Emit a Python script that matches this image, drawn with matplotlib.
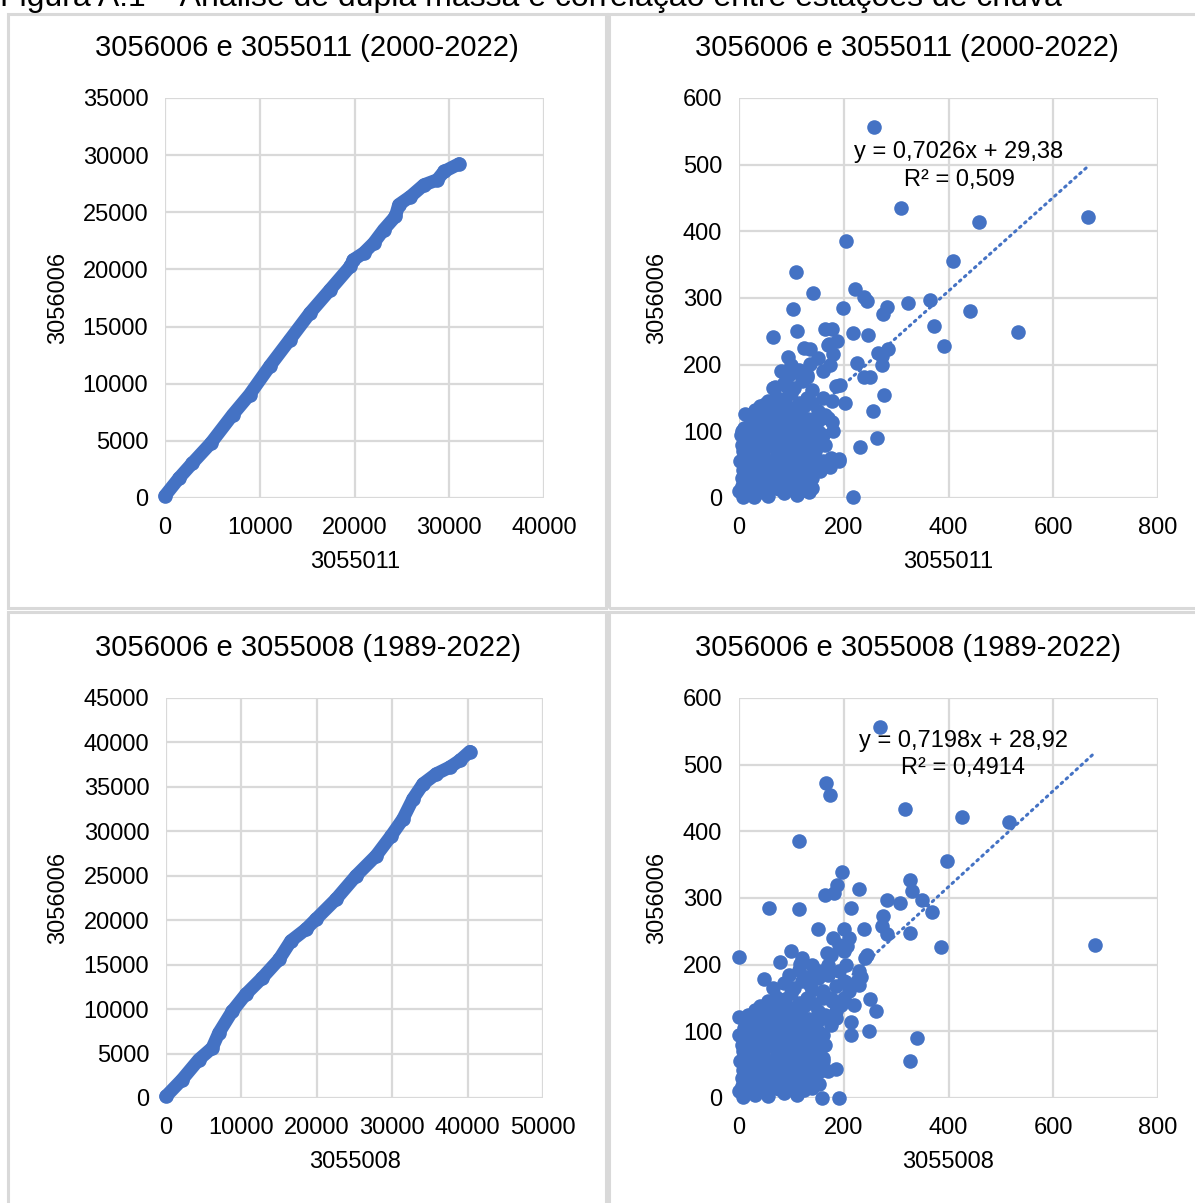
import matplotlib.pyplot as plt
import matplotlib.patches as patches
import numpy as np

plt.rcParams['font.family'] = ['Liberation Sans', 'DejaVu Sans']

# ---------------- dados: curvas de dupla massa (acumulados) ----------------
dm1_x = [0, 1490, 2900, 4850, 7150, 8920, 11040, 13170, 15290, 17420, 19540, 19890,
         20960, 22020, 23080, 24320, 24670, 25910, 27330, 28740, 29450, 31040]
dm1_y = [200, 1750, 3060, 4810, 7290, 9040, 11520, 13850, 16180, 18220, 20260, 20850,
         21430, 22300, 23470, 24640, 25660, 26380, 27400, 27840, 28570, 29240]

dm2_x = [0, 2130, 4350, 6130, 7010, 8790, 10560, 12780, 15000, 16560, 18550, 19880,
         22550, 25210, 27870, 29870, 31420, 32750, 34090, 35860, 37640, 38970, 40300]
dm2_y = [190, 2070, 4320, 5640, 7330, 9770, 11650, 13530, 15600, 17670, 18980, 20110,
         22370, 25000, 27260, 29510, 31390, 33650, 35340, 36470, 37220, 37970, 38980]

# ---------------- dados: correlação (valores mensais) ----------------
# nuvem densa comum de meses secos/médios
nuvem_x = [0, 8, 20, 30, 45, 55, 70, 85, 95, 110, 125, 140, 60,
           5, 15, 28, 40, 52, 65, 78, 90, 102, 115, 128, 140, 155,
           2, 12, 25, 38, 50, 62, 75, 88, 100, 112, 125, 138, 150,
           8, 20, 32, 45, 58, 70, 82, 95, 108, 120, 132, 145,
           3, 15, 28, 40, 55, 68, 80, 92, 105, 118, 130, 145, 160,
           10, 22, 35, 48, 62, 75, 88, 100, 112, 125, 140, 155,
           18, 30, 45, 60, 72, 85, 98, 110, 125, 150, 165,
           55, 70, 88, 100, 115, 130, 160, 178,
           65, 85, 105, 120, 140, 185,
           95, 115, 130, 160,
           5, 18, 33, 48, 63, 77, 92, 105, 118, 132,
           7, 20, 33, 46, 60, 72, 86, 98, 110, 122, 135, 160,
           5, 20, 35, 50, 62, 75, 88, 100, 115, 128, 140, 155,
           12, 25, 40, 55, 68, 82, 95, 108, 122, 135, 150,
           25, 40, 52, 66, 80, 94, 106, 118, 132, 145,
           40, 62, 78, 92, 108, 122, 140]
nuvem_y = [10, 2, 15, 5, 12, 3, 18, 8, 15, 5, 12, 15, 25,
           30, 35, 22, 38, 28, 35, 25, 38, 30, 22, 35, 30, 40,
           55, 48, 58, 45, 55, 48, 58, 45, 52, 60, 48, 55, 45,
           70, 65, 75, 68, 78, 62, 72, 66, 78, 68, 75, 70,
           95, 85, 92, 82, 98, 88, 95, 84, 92, 86, 98, 90, 95,
           105, 115, 108, 118, 110, 102, 115, 108, 118, 112, 105, 118,
           125, 132, 128, 138, 126, 135, 130, 122, 138, 130, 125,
           145, 152, 148, 158, 142, 150, 150, 145,
           165, 172, 165, 175, 162, 168,
           185, 192, 182, 190,
           18, 20, 16, 22, 19, 14, 21, 17, 20, 24,
           42, 44, 40, 47, 43, 40, 46, 42, 45, 41, 44, 55,
           80, 78, 84, 76, 82, 79, 77, 83, 80, 76, 84, 80,
           98, 100, 96, 104, 97, 108, 100, 95, 102, 96, 100,
           120, 118, 125, 118, 122, 119, 125, 120, 118, 115,
           138, 142, 140, 138, 135, 140, 142]

# 3055011 x 3056006 (2000-2022): meses fora da nuvem
sc1_x = [258, 309, 459, 667, 204, 408, 108, 142, 222, 238, 244, 199, 103, 282, 275, 322,
         364, 441, 373, 532, 392, 64, 111, 164, 177, 217, 247, 171, 187, 136, 94, 180,
         266, 285, 273, 136, 174, 225, 273, 80, 110, 129, 238, 250, 69, 91, 193, 277,
         203, 50, 255, 177, 263, 231, 217, 134, 11, 5, 190, 174, 29,
         170, 180, 165, 175, 190, 150, 170, 125, 100]
sc1_y = [557, 435, 414, 422, 385, 355, 339, 307, 314, 301, 296, 285, 283, 287, 276, 293,
         297, 280, 258, 249, 228, 241, 251, 253, 253, 247, 245, 231, 236, 223, 211, 216,
         218, 224, 213, 201, 199, 202, 199, 190, 189, 184, 181, 181, 166, 166, 170, 155,
         143, 141, 130, 114, 90, 76, 1, 9, 126, 101, 59, 46, 1,
         120, 100, 80, 60, 55, 210, 230, 225, 200]

# 3055008 x 3056006 (1989-2022): meses fora da nuvem
sc2_x = [270, 166, 173, 316, 425, 516, 115, 398, 197, 326, 187, 230, 165, 181, 331, 283,
         307, 350, 58, 115, 214, 369, 275, 151, 200, 238, 273, 326, 283, 680, 386, 245,
         0, 79, 116, 168, 206, 232, 229, 251, 261, 248, 340, 326, 190, 158, 186, 0, 0,
         47, 152, 213, 213,
         165, 175, 185, 160, 170, 200,
         150, 170, 190, 200, 180, 210, 160, 175, 195, 210, 220, 140, 120, 100,
         185, 200, 215, 230, 240, 170, 190, 205, 225, 135, 150, 175]
sc2_y = [557, 472, 454, 434, 421, 414, 385, 355, 339, 327, 319, 314, 305, 307, 311, 297,
         293, 297, 285, 283, 285, 279, 273, 253, 253, 254, 258, 247, 246, 229, 227, 214,
         211, 204, 201, 218, 228, 181, 169, 149, 130, 101, 90, 56, 0, 0, 44, 121, 94,
         179, 21, 94, 114,
         80, 110, 130, 60, 40, 175,
         180, 200, 190, 220, 240, 240, 160, 150, 140, 160, 140, 200, 210, 220,
         120, 150, 170, 190, 210, 185, 230, 200, 175, 170, 190, 215]

eq1 = (0.7026, 29.38)
eq2 = (0.7198, 28.92)
titulos = ['3056006 e 3055011 (2000-2022)', '3056006 e 3055011 (2000-2022)',
           '3056006 e 3055008 (1989-2022)', '3056006 e 3055008 (1989-2022)']
xlabels = ['3055011', '3055011', '3055008', '3055008']
ylabel = '3056006'
eq_txt = ['y = 0,7026x + 29,38\nR² = 0,509', 'y = 0,7198x + 28,92\nR² = 0,4914']

# ---------------- figura ----------------
W, H = 1195, 1203
fig = plt.figure(figsize=(W / 100, H / 100), dpi=100)
azul = '#4472C4'
cinza = '#D9D9D9'
fs = 17


def fx(px):
    return px / W


def fy(py):
    return 1 - py / H


# bordas dos quadros
for (x0, y0, x1, y1) in [(8, 14, 606, 608), (609, 14, 1200, 608),
                         (8, 612, 606, 1210), (609, 612, 1200, 1210)]:
    fig.patches.append(patches.Rectangle((fx(x0), fy(y1)), fx(x1 - x0), (y1 - y0) / H,
                                         transform=fig.transFigure, fill=False,
                                         edgecolor=cinza, linewidth=2.2))

# legenda da figura (cortada no topo, como no original)
fig.text(0.0, fy(6), 'Figura A.1 – Análise de dupla massa e correlação entre estações de chuva',
         fontsize=23, ha='left', va='baseline')

posicoes = [(165, 98, 544, 498), (739, 98, 1158, 498),
            (166, 698, 543, 1098), (739, 698, 1158, 1098)]
axes = []
for (l, t, r, b) in posicoes:
    ax = fig.add_axes([fx(l), fy(b), fx(r - l), (b - t) / H])
    axes.append(ax)


def estilo(ax, xlim, ylim, xstep, ystep):
    ax.set_xlim(*xlim)
    ax.set_ylim(*ylim)
    ax.set_xticks(np.arange(xlim[0], xlim[1] + 1, xstep))
    ax.set_yticks(np.arange(ylim[0], ylim[1] + 1, ystep))
    ax.grid(True, color=cinza, linewidth=1.6)
    ax.set_axisbelow(True)
    for s in ax.spines.values():
        s.set_visible(False)
    ax.tick_params(length=0, labelsize=fs)
    ax.tick_params(axis='x', pad=14)
    ax.tick_params(axis='y', pad=12)


# dupla massa
axes[0].plot(dm1_x, dm1_y, '-o', color=azul, lw=9.5, ms=9.5,
             solid_capstyle='round', solid_joinstyle='round', clip_on=False)
estilo(axes[0], (0, 40000), (0, 35000), 10000, 5000)

axes[2].plot(dm2_x, dm2_y, '-o', color=azul, lw=9.5, ms=9.5,
             solid_capstyle='round', solid_joinstyle='round', clip_on=False)
estilo(axes[2], (0, 50000), (0, 45000), 10000, 5000)

# correlação
for ax, sx, sy, eq in [(axes[1], nuvem_x + sc1_x, nuvem_y + sc1_y, eq1),
                       (axes[3], nuvem_x + sc2_x, nuvem_y + sc2_y, eq2)]:
    ax.scatter(sx, sy, s=110, color=azul, clip_on=False, zorder=3, linewidths=0)
    xl = np.array([min(sx), max(sx)])
    ax.plot(xl, eq[0] * xl + eq[1], color=azul, lw=2.2, linestyle=(0, (0.6, 1.6)),
            dash_capstyle='round', zorder=4)
    estilo(ax, (0, 800), (0, 600), 200, 100)

axes[1].text(420, 498, eq_txt[0], fontsize=fs, ha='center', va='center',
             linespacing=1.3, zorder=5)
axes[3].text(428, 515, eq_txt[1], fontsize=fs, ha='center', va='center',
             linespacing=1.3, zorder=5)

# títulos e rótulos
tpos = [(307, 48), (907, 48), (308, 648), (908, 648)]
xpos = [(355, 562), (948, 562), (355, 1162), (948, 1162)]
ypos = [(58, 298), (657, 298), (58, 898), (657, 898)]
for i in range(4):
    fig.text(fx(tpos[i][0]), fy(tpos[i][1]), titulos[i], fontsize=21,
             ha='center', va='center')
    fig.text(fx(xpos[i][0]), fy(xpos[i][1]), xlabels[i], fontsize=fs,
             ha='center', va='center')
    fig.text(fx(ypos[i][0]), fy(ypos[i][1]), ylabel, fontsize=fs,
             ha='center', va='center', rotation=90)

fig.savefig('out.png', dpi=100)
